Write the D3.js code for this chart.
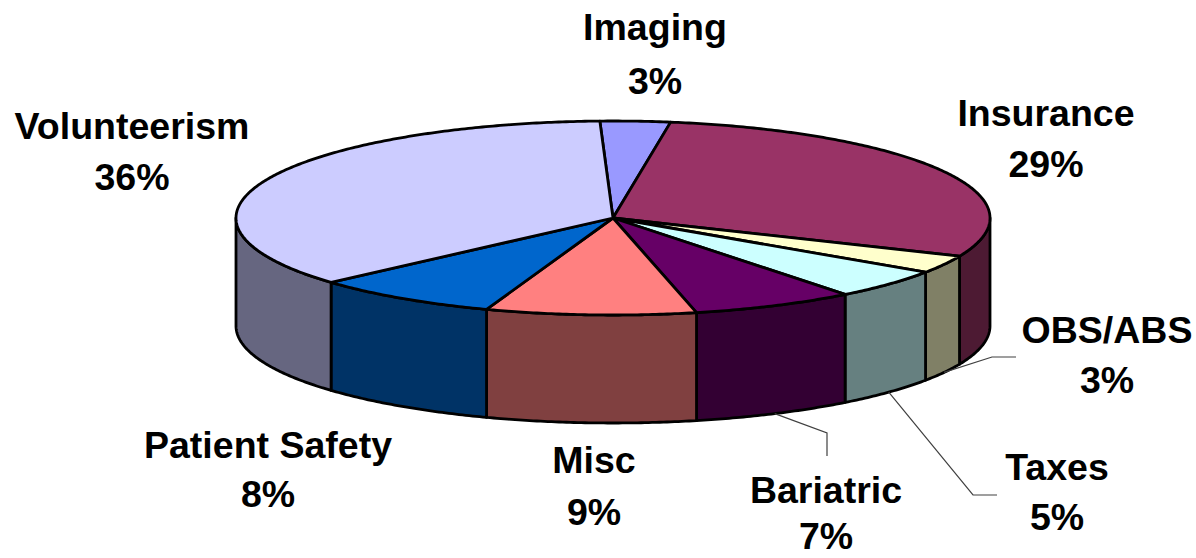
<!DOCTYPE html>
<html>
<head>
<meta charset="utf-8">
<script src="https://cdn.jsdelivr.net/npm/d3@7/dist/d3.min.js"></script>
<style>
  html, body { margin: 0; padding: 0; background: #ffffff; }
  svg { display: block; }
</style>
</head>
<body>
<svg id="chart" width="1196" height="558"></svg>
<script>
// ---- data ----
const categories = ["Imaging", "Insurance", "OBS/ABS", "Taxes", "Bariatric", "Misc", "Patient Safety", "Volunteerism"];
const values = [3, 29, 3, 5, 7, 9, 8, 36];
const topColors = ["#9999FF", "#993366", "#FFFFCC", "#CCFFFF", "#660066", "#FF8080", "#0066CC", "#CCCCFF"];
const sideColors = ["#4D4D80", "#4D1A33", "#808066", "#668080", "#330033", "#804040", "#003366", "#666680"];

// ---- layout ----
const W = 1196, H = 558;
const cx = 613, cy = 218, rx = 377, ry = 97, depth = 108;
const rot = -2 * Math.PI / 180;

// label layout: centre x, baseline of name, baseline of percent
const labelLayout = {
  "Imaging":        { x: 655,  y1: 40,  y2: 94 },
  "Insurance":      { x: 1046, y1: 126, y2: 177 },
  "OBS/ABS":        { x: 1107, y1: 343, y2: 393 },
  "Taxes":          { x: 1057, y1: 480, y2: 530 },
  "Bariatric":      { x: 826,  y1: 503, y2: 549 },
  "Misc":           { x: 594,  y1: 473, y2: 525 },
  "Patient Safety": { x: 268,  y1: 458, y2: 507 },
  "Volunteerism":   { x: 132,  y1: 139, y2: 190 }
};
// leader elbows (from slice bottom edge -> elbow -> end)
const leaders = {
  "OBS/ABS":   [[992, 357], [1016, 357]],
  "Taxes":     [[973, 495], [997, 495]],
  "Bariatric": [[827, 433], [827, 456]]
};

const svg = d3.select("#chart");

const arcs = d3.pie().sort(null).value(d => d)
  .startAngle(rot).endAngle(rot + 2 * Math.PI)(values);

const pt = (a, h = 0) => [cx + rx * Math.sin(a), cy - ry * Math.cos(a) + h];
const line = d3.line();

function arcPoints(a0, a1, h) {
  const n = Math.max(2, Math.ceil(Math.abs(a1 - a0) / 0.01));
  return d3.range(n + 1).map(i => pt(a0 + (a1 - a0) * i / n, h));
}

// outer walls (visible front half)
const gWalls = svg.append("g");
arcs.forEach((d, i) => {
  const a0 = Math.max(d.startAngle, Math.PI / 2);
  const a1 = Math.min(d.endAngle, 3 * Math.PI / 2);
  if (a1 <= a0) return;
  const top = arcPoints(a0, a1, 0);
  const bot = arcPoints(a1, a0, depth);
  gWalls.append("path")
    .attr("d", line(top.concat(bot)) + "Z")
    .attr("fill", sideColors[i])
    .attr("stroke", "#000")
    .attr("stroke-width", 2.8)
    .attr("stroke-linejoin", "round");
});

// top faces
const gTops = svg.append("g");
arcs.forEach((d, i) => {
  const pts = [[cx, cy]].concat(arcPoints(d.startAngle, d.endAngle, 0));
  gTops.append("path")
    .attr("d", line(pts) + "Z")
    .attr("fill", topColors[i])
    .attr("stroke", "#000")
    .attr("stroke-width", 2.8)
    .attr("stroke-linejoin", "round");
});

// leader lines
const gLead = svg.append("g");
arcs.forEach((d, i) => {
  const name = categories[i];
  if (!leaders[name]) return;
  const mid = (d.startAngle + d.endAngle) / 2;
  const p0 = pt(mid, depth);
  gLead.append("path")
    .attr("d", line([p0].concat(leaders[name])))
    .attr("fill", "none")
    .attr("stroke", "#404040")
    .attr("stroke-width", 1.2);
});

// labels
const total = d3.sum(values);
const gLab = svg.append("g")
  .attr("font-family", "Liberation Sans, Arial, sans-serif")
  .attr("font-weight", "bold")
  .attr("font-size", 37.5)
  .attr("fill", "#000")
  .attr("text-anchor", "middle");
categories.forEach((name, i) => {
  const L = labelLayout[name];
  gLab.append("text").attr("x", L.x).attr("y", L.y1).text(name);
  gLab.append("text").attr("x", L.x).attr("y", L.y2)
    .text(Math.round(values[i] / total * 100) + "%");
});
</script>
</body>
</html>
